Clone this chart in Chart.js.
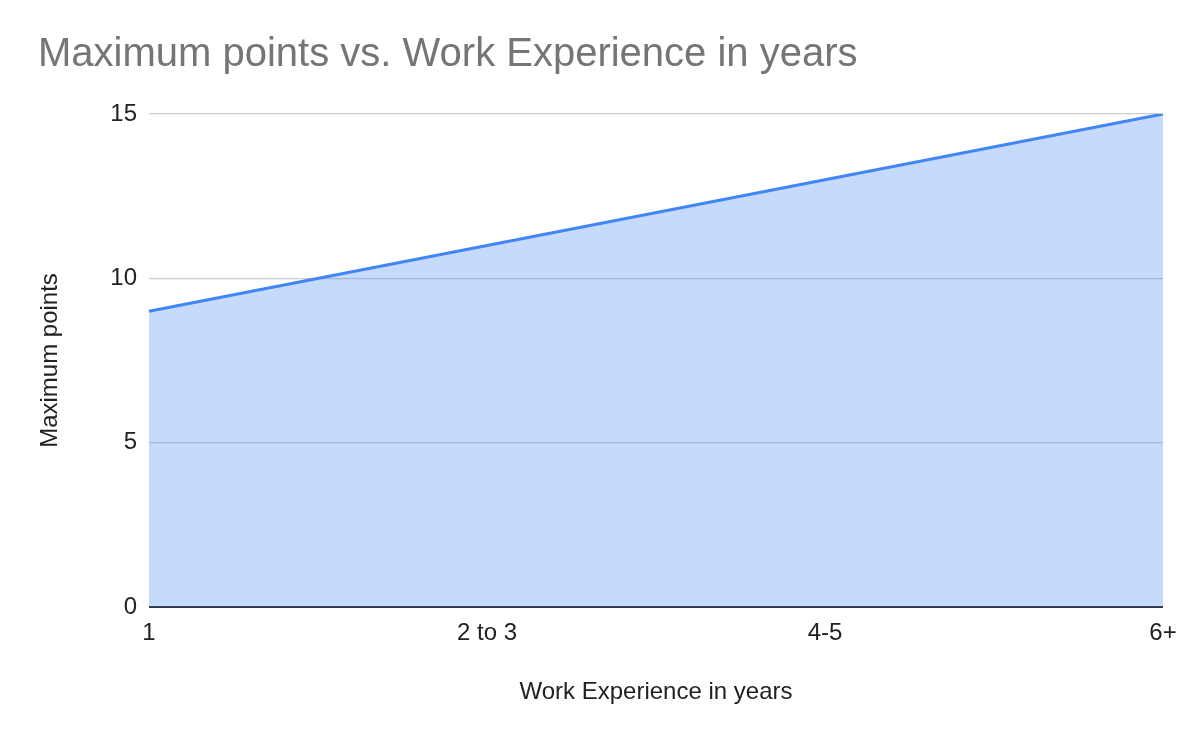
<!DOCTYPE html>
<html>
<head>
<meta charset="utf-8">
<script src="https://cdn.jsdelivr.net/npm/chart.js@4"></script>
<style>
  html, body { margin: 0; padding: 0; background: #fff; }
  #wrap { width: 1200px; height: 742px; }
</style>
</head>
<body>
<div id="wrap"><canvas id="myChart" width="1200" height="742"></canvas></div>
<script>
// categories and values
const experience = ["1", "2 to 3", "4-5", "6+"];
const maxPoints = [9, 11, 13, 15];
const yTicks = [0, 5, 10, 15];

const fontFamily = "'Liberation Sans', Arial, sans-serif";

const data = {
  labels: experience,
  datasets: [
    {
      data: maxPoints,
      borderColor: "#4285f4",
      backgroundColor: "rgba(66, 133, 244, 0.3)",
      borderWidth: 3,
      fill: "origin",
      tension: 0,
      pointRadius: 0,
    },
  ],
};

const config = {
  type: "line",
  data: data,
  options: {
    responsive: false,
    animation: false,
    layout: { padding: { left: 38, right: 37, top: 0, bottom: 0 } },
    plugins: {
      legend: { display: false },
      tooltip: { enabled: false },
      title: {
        display: true,
        text: "Maximum points vs. Work Experience in years",
        align: "start",
        color: "#757575",
        font: { family: fontFamily, size: 40, weight: "normal", lineHeight: 1.2 },
        padding: { top: 31, bottom: 35 },
      },
    },
    scales: {
      x: {
        offset: false,
        grid: { display: false },
        border: { display: false },
        ticks: {
          color: "#222",
          padding: 4,
          maxRotation: 0,
          font: { family: fontFamily, size: 24 },
        },
        title: {
          display: true,
          text: "Work Experience in years",
          color: "#222",
          font: { family: fontFamily, size: 24, lineHeight: 1.2 },
          padding: { top: 0, bottom: 35 },
        },
        afterFit: (scale) => {
          scale.height = 135;
        },
      },
      y: {
        min: 0,
        max: 15,
        afterBuildTicks: (scale) => {
          scale.ticks = yTicks.map((v) => ({ value: v }));
        },
        grid: {
          drawTicks: false,
          color: (ctx) => (ctx.tick && ctx.tick.value === 0 ? "#333" : "#cccccc"),
          lineWidth: (ctx) => (ctx.tick && ctx.tick.value === 0 ? 2 : 1.2),
        },
        border: { display: false },
        ticks: {
          color: "#222",
          padding: 12,
          font: { family: fontFamily, size: 24 },
        },
        title: {
          display: true,
          text: "Maximum points",
          color: "#222",
          font: { family: fontFamily, size: 24, lineHeight: 1 },
          padding: { top: 0, bottom: 0 },
        },
        afterFit: (scale) => {
          scale.width = 111;
        },
      },
    },
  },
};

var myChart = new Chart(document.getElementById("myChart"), config);
</script>
</body>
</html>
